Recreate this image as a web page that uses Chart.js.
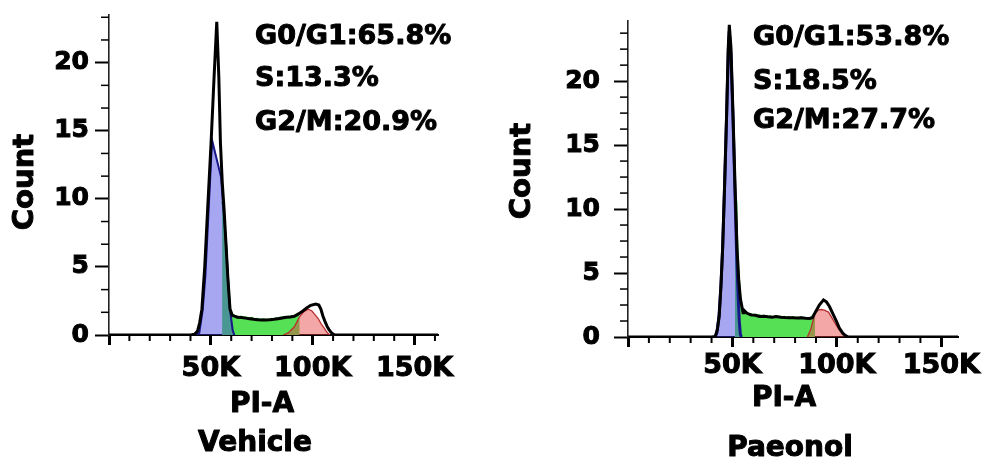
<!DOCTYPE html>
<html>
<head>
<meta charset="utf-8">
<script src="https://cdn.jsdelivr.net/npm/chart.js@4.4.1/dist/chart.umd.min.js"></script>
<style>
  html, body { margin: 0; padding: 0; background: #fff; }
  .panel { position: absolute; top: 0; width: 493px; height: 465px; }
  #p1 { left: 0; }
  #p2 { left: 493px; }
</style>
</head>
<body>
<div class="panel" id="p1"><canvas id="vehicle"></canvas></div>
<div class="panel" id="p2"><canvas id="paeonol"></canvas></div>
<script>
// PI-A in thousands, Count on y

// --- Vehicle ---
var vehTotalX = [0, 40, 42, 43.5, 44.5, 45.6, 47, 48.4, 50.1, 51.6, 52.9, 53.9, 54.7, 55.6, 56.5, 57.5, 58.3, 59.4, 60.5, 61.6,
  63, 65, 67, 69, 71, 73, 75, 77, 79, 81, 83, 85, 87, 89, 91, 93, 95, 97, 99, 101.5, 103, 104, 105, 106, 107, 108, 109, 110, 111, 161.5];
var vehTotalY = [0, 0, 0.05, 0.3, 0.9, 1.9, 5.0, 9.2, 14.1, 19.0, 23.0, 19.0, 14.1, 11.2, 9.2, 6.5, 4.3, 1.9, 1.45, 1.38,
  1.3, 1.28, 1.24, 1.2, 1.15, 1.12, 1.1, 1.1, 1.12, 1.15, 1.2, 1.25, 1.3, 1.33, 1.38, 1.55, 1.75, 1.98, 2.18, 2.28, 2.2, 1.9, 1.4, 1.0, 0.65, 0.4, 0.2, 0.07, 0, 0];
var vehG1X = [42, 44.3, 46, 47.3, 48.9, 50.6, 55.0, 56.3, 57.5, 58.5, 59.4, 60.7, 61.5];
var vehG1Y = [0, 0.15, 1.84, 4.3, 9.2, 14.3, 11.6, 9.0, 6.7, 4.0, 1.84, 0.37, 0];
var vehSX = [55.5, 56.5, 57.5, 58.3, 59.4, 60.5, 61.6, 63, 64, 65, 66, 67, 68, 69, 70, 71, 72, 73, 74, 75, 76, 77, 78, 79,
  80, 81, 82, 83, 84, 85, 86, 87, 88, 89, 90, 91, 92, 93.6];
var vehSY = [9.8, 9.0, 6.4, 4.3, 1.95, 1.5, 1.42, 1.36, 1.3, 1.36, 1.27, 1.3, 1.26, 1.22, 1.27, 1.2, 1.16, 1.2, 1.14, 1.12, 1.18, 1.1, 1.16, 1.14,
  1.2, 1.15, 1.24, 1.2, 1.29, 1.25, 1.34, 1.3, 1.37, 1.33, 1.4, 1.42, 1.48, 1.58];
var vehG2X = [85.5, 88, 91, 93.6, 95.5, 97.7, 99.5, 101, 102.6, 104, 105.9, 107, 108.4];
var vehG2Y = [0, 0.15, 0.6, 1.35, 1.7, 1.9, 1.78, 1.52, 1.23, 0.85, 0.45, 0.2, 0];
var vehNotes = ['G0/G1:65.8%', 'S:13.3%', 'G2/M:20.9%'];

// --- Paeonol ---
var paeTotalX = [0, 40, 41.8, 42.8, 43.7, 44.5, 45.3, 46.3, 47.2, 48.0, 48.5, 49.3, 50.3, 51.2, 52.2, 53.0, 53.8, 55.1, 55.4,
  57, 59, 61, 63, 65, 67, 69, 71, 73, 75, 77, 79, 81, 83, 85, 87, 88.3, 89.9, 91.6, 93.6, 95, 96.4, 98, 99.6, 101.2, 102.8, 104, 105.5, 158];
var paeTotalY = [0, 0, 0.05, 0.6, 1.7, 4.0, 6.9, 12.1, 17.3, 22.6, 24.4, 22.6, 17.3, 12.1, 6.9, 4.5, 3.0, 1.9, 2.1,
  1.85, 1.72, 1.7, 1.6, 1.62, 1.58, 1.55, 1.6, 1.55, 1.52, 1.5, 1.5, 1.48, 1.5, 1.46, 1.45, 1.5, 2.0, 2.5, 2.9, 2.75, 2.4, 1.85, 1.3, 0.7, 0.3, 0.12, 0, 0];
var paeG1X = [41.5, 42.5, 43.5, 44.5, 45.3, 46.3, 47.2, 48.0, 48.5, 49.3, 50.3, 51.1, 52.0, 52.8, 53.3, 53.8, 54.3];
var paeG1Y = [0, 0.3, 1.5, 4.0, 6.9, 12.1, 17.3, 22.3, 23.9, 22.0, 17.0, 12.0, 6.5, 3.0, 1.2, 0.2, 0];
var paeSX = [51.2, 51.9, 52.2, 53.0, 54.0, 55.0, 55.4, 56, 57, 58, 59, 60, 61, 62, 63, 64, 65, 66, 67, 68, 69, 70, 71, 72, 73, 74,
  75, 76, 77, 78, 79, 80, 81, 82, 83, 84, 85, 86, 87, 88, 89.5];
var paeSY = [11.0, 10.6, 8.1, 4.8, 2.8, 2.1, 2.15, 1.95, 1.88, 1.8, 1.76, 1.72, 1.75, 1.66, 1.7, 1.6, 1.68, 1.62, 1.58, 1.65, 1.56, 1.6,
  1.64, 1.55, 1.6, 1.53, 1.58, 1.5, 1.56, 1.52, 1.55, 1.48, 1.52, 1.5, 1.55, 1.46, 1.5, 1.45, 1.5, 1.55, 1.85];
var paeG2X = [85.9, 87.5, 89.5, 91, 92.5, 94, 96, 98, 99.6, 101.2, 102.8, 104.6];
var paeG2Y = [0, 0.6, 1.85, 2.1, 2.15, 2.1, 1.95, 1.4, 0.94, 0.55, 0.3, 0];
var paeNotes = ['G0/G1:53.8%', 'S:18.5%', 'G2/M:27.7%'];

// ticks
var xMajor = [0, 50, 100, 150];
var xMinor = [10, 20, 30, 40, 60, 70, 80, 90, 110, 120, 130, 140, 160];
var yMajor = [0, 5, 10, 15, 20];
var vehYMinor = [5/3, 10/3, 20/3, 25/3, 35/3, 40/3, 50/3, 55/3, 65/3, 70/3];
var paeYMinor = [1.25, 2.5, 3.75, 6.25, 7.5, 8.75, 11.25, 12.5, 13.75, 16.25, 17.5, 18.75, 21.25, 22.5, 23.75];

Chart.defaults.font.family = '"DejaVu Sans", sans-serif';
Chart.defaults.color = '#000';

function pts(xs, ys) {
  return xs.map(function (x, i) { return {x: x, y: ys[i]}; });
}

function heavyText(ctx, t, x, y) {
  ctx.fillText(t, x, y);
  ctx.strokeText(t, x, y);
}

// minor ticks + free text
function deco(cfg) {
  return {
    id: 'deco',
    afterDraw: function (chart) {
      var ctx = chart.ctx, xs = chart.scales.x, ys = chart.scales.y, a = chart.chartArea;
      ctx.save();
      ctx.strokeStyle = '#000';
      ctx.lineWidth = 1.5;
      cfg.yMinor.forEach(function (v) {
        var py = ys.getPixelForValue(v);
        ctx.beginPath(); ctx.moveTo(a.left - 8, py); ctx.lineTo(a.left, py); ctx.stroke();
      });
      ctx.lineWidth = 2;
      xMinor.forEach(function (v) {
        if (v > xs.max) return;
        var px = xs.getPixelForValue(v);
        ctx.beginPath(); ctx.moveTo(px, a.bottom); ctx.lineTo(px, a.bottom + 6); ctx.stroke();
      });
      ctx.fillStyle = '#000';
      ctx.lineWidth = 1;
      ctx.lineJoin = 'round';
      ctx.textBaseline = 'middle';
      ctx.textAlign = 'left';
      ctx.font = 'bold 27px "DejaVu Sans"';
      cfg.notes.forEach(function (t, i) { heavyText(ctx, t, a.left + cfg.noteX, cfg.noteY[i]); });
      ctx.textAlign = 'center';
      ctx.font = 'bold 28px "DejaVu Sans"';
      heavyText(ctx, 'PI-A', a.left + cfg.piX, cfg.piY);
      heavyText(ctx, cfg.group, a.left + cfg.groupX, cfg.groupY);
      // y title
      ctx.save();
      ctx.translate(cfg.countX, cfg.countY);
      ctx.rotate(-Math.PI / 2);
      ctx.font = 'bold 29px "DejaVu Sans"';
      heavyText(ctx, 'Count', 0, 0);
      ctx.restore();
      ctx.restore();
    }
  };
}

function build(id, d, lay) {
  new Chart(document.getElementById(id), {
    type: 'line',
    data: {
      datasets: [
        {label: 'Total', data: pts(d.tx, d.ty), borderColor: '#000', borderWidth: 3, fill: false},
        {label: 'G0/G1', data: pts(d.g1x, d.g1y), borderColor: '#17178a', borderWidth: lay.blueW,
          backgroundColor: 'rgba(60,60,225,0.45)', fill: 'origin'},
        {label: 'G2/M', data: pts(d.g2x, d.g2y), borderColor: '#b83030', borderWidth: 1.3,
          backgroundColor: 'rgba(228,60,60,0.45)', fill: 'origin'},
        {label: 'S', data: pts(d.sx, d.sy), borderColor: '#1fb81f', borderWidth: 1.8,
          backgroundColor: '#55e055', fill: 'origin'}
      ]
    },
    options: {
      responsive: true,
      maintainAspectRatio: false,
      animation: false,
      layout: {padding: lay.pad},
      elements: {point: {radius: 0}, line: {tension: 0}},
      plugins: {legend: {display: false}, tooltip: {enabled: false}},
      scales: {
        x: {
          type: 'linear', min: 0, max: d.xMax,
          afterBuildTicks: function (s) { s.ticks = xMajor.map(function (v) { return {value: v}; }); },
          afterFit: function (s) { s.height = lay.xH; s.paddingLeft = 0; s.paddingRight = 0; },
          grid: {drawOnChartArea: false, tickLength: 10, tickWidth: 3, tickColor: '#000'},
          border: {color: '#000', width: 2},
          ticks: {
            padding: lay.xPad, maxRotation: 0, autoSkip: false,
            font: {size: 27, weight: 'bold'},
            textStrokeColor: '#000', textStrokeWidth: 1,
            callback: function (v) { return v === 0 ? '' : v + 'K'; }
          }
        },
        y: {
          min: 0, max: d.yMax,
          afterBuildTicks: function (s) { s.ticks = yMajor.map(function (v) { return {value: v}; }); },
          afterFit: function (s) { s.width = lay.yW; s.paddingTop = 0; s.paddingBottom = 0; },
          grid: {drawOnChartArea: false, tickLength: 14, tickWidth: 2, tickColor: '#000'},
          border: {color: '#222', width: 1.6},
          ticks: {padding: lay.yPad, font: {size: 25, weight: 'bold'}, textStrokeColor: '#000', textStrokeWidth: 1}
        }
      }
    },
    plugins: [deco(lay)]
  });
}

build('vehicle',
  {tx: vehTotalX, ty: vehTotalY, g1x: vehG1X, g1y: vehG1Y, sx: vehSX, sy: vehSY, g2x: vehG2X, g2y: vehG2Y, xMax: 161.5, yMax: 23.5},
  {pad: {left: 0, top: 15, right: 55, bottom: 0}, yW: 109, xH: 130, xPad: 8, yPad: 6, blueW: 2,
   yMinor: vehYMinor, notes: vehNotes, noteX: 146, noteY: [37, 79, 122.5],
   piX: 153, piY: 405, group: 'Vehicle', groupX: 146, groupY: 444, countX: 25, countY: 182});

build('paeonol',
  {tx: paeTotalX, ty: paeTotalY, g1x: paeG1X, g1y: paeG1Y, sx: paeSX, sy: paeSY, g2x: paeG2X, g2y: paeG2Y, xMax: 158, yMax: 24.7},
  {pad: {left: 0, top: 21, right: 28, bottom: 0}, yW: 135, xH: 128, xPad: 3, yPad: 14, blueW: 3,
   yMinor: paeYMinor, notes: paeNotes, noteX: 125, noteY: [37.5, 82, 121],
   piX: 156, piY: 398.5, group: 'Paeonol', groupX: 162, groupY: 449, countX: 29, countY: 171});
</script>
</body>
</html>
